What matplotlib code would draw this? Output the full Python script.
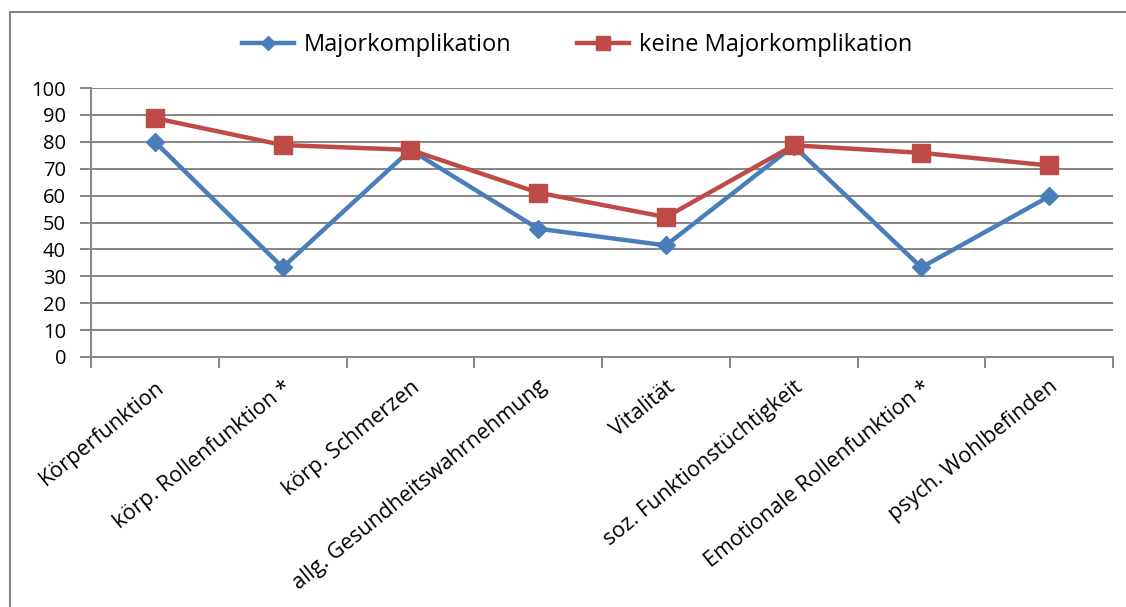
import matplotlib.pyplot as plt
from matplotlib.patches import Rectangle

plt.rcParams['font.family'] = ['Open Sans', 'DejaVu Sans']

# SF-36 Skalen, Mittelwerte je Gruppe
kategorien = ['Körperfunktion', 'körp. Rollenfunktion *', 'körp. Schmerzen',
              'allg. Gesundheitswahrnehmung', 'Vitalität', 'soz. Funktionstüchtigkeit',
              'Emotionale Rollenfunktion *', 'psych. Wohlbefinden']
major = [80, 33.3, 77, 47.7, 41.5, 78.5, 33.3, 59.7]
keine_major = [88.8, 78.8, 77, 61.1, 52, 78.7, 75.9, 71.2]
yticks = list(range(0, 101, 10))

blau = '#4A7EBB'
rot = '#BE4B48'
grau = '#868686'

fig = plt.figure(figsize=(11.26, 6.07), dpi=100)
ax = fig.add_axes([91/1126, 1-357/607, (1113-91)/1126, (357-88)/607])

# Rahmen um das Diagramm
fig.patches.append(Rectangle((10/1126, -0.1), 1.2, 1-12/607+0.1, transform=fig.transFigure,
                             fill=False, edgecolor=grau, linewidth=1.5))

x = list(range(len(kategorien)))
ax.plot(x, major, color=blau, linewidth=3.2, marker='D', markersize=9.5,
        markerfacecolor=blau, markeredgecolor=blau, label='Majorkomplikation')
ax.plot(x, keine_major, color=rot, linewidth=3.2, marker='s', markersize=13,
        markerfacecolor=rot, markeredgecolor=rot, label='keine Majorkomplikation')

ax.set_xlim(-0.5, len(kategorien)-0.5)
ax.set_ylim(0, 100)
ax.set_yticks(yticks)
ax.yaxis.grid(True, color=grau, linewidth=1.4)
ax.set_axisbelow(True)

# Ticks zwischen den Kategorien, Beschriftung auf der Mitte
ax.set_xticks([i - 0.5 for i in range(len(kategorien)+1)])
ax.set_xticklabels([])
ax.set_xticks(x, minor=True)
ax.set_xticklabels(kategorien, minor=True, rotation=39, ha='right', rotation_mode='anchor',
                   fontsize=15.5)
ax.tick_params(axis='x', which='minor', length=0, pad=14)
ax.tick_params(axis='x', which='major', length=8, width=1.4, color=grau)
ax.tick_params(axis='y', length=8, width=1.4, color=grau, labelsize=14.5, pad=10)

for s in ['top', 'right']:
    ax.spines[s].set_visible(False)
for s in ['left', 'bottom']:
    ax.spines[s].set_color(grau)
    ax.spines[s].set_linewidth(1.4)

fig.legend(loc='center', bbox_to_anchor=(577/1126, 1-45/607), ncol=2, frameon=False,
           fontsize=17, handlelength=2.2, columnspacing=2.8, handletextpad=0.4,
           markerscale=0.8)

fig.savefig('out.png', dpi=100)
